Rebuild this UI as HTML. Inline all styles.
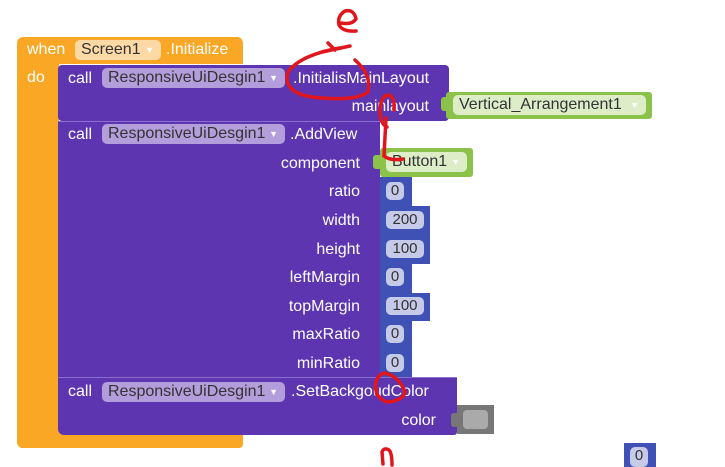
<!DOCTYPE html>
<html><head><meta charset="utf-8">
<style>
body{margin:0;width:725px;height:467px;background:#fff;position:relative;overflow:hidden;font-family:"Liberation Sans",Arial,sans-serif;}
.a{position:absolute;box-sizing:border-box;}
.t{position:absolute;color:#fff;font-size:16px;white-space:nowrap;line-height:16px;letter-spacing:0}
.pill{position:absolute;border-radius:5px;font-size:16px;line-height:20px;height:20px;color:#333;padding:0 6px;white-space:nowrap;box-sizing:border-box;}
.pill span{position:absolute;right:7px;top:0;color:#fff;font-size:9px}
.num{position:absolute;background:#3f51b5;}
.nv{position:absolute;background:#c5cae9;border-radius:5px;color:#333;font-size:15px;line-height:18px;text-align:center;}
.lab{position:absolute;color:#fff;font-size:16px;text-align:right;width:200px;white-space:nowrap;}
</style></head><body>
<div class="a" style="left:17px;top:37px;width:226px;height:27px;background:#fba726;border-radius:6px 6px 0 0"></div>
<div class="a" style="left:17px;top:60px;width:42px;height:388px;background:#fba726;border-radius:0 0 0 6px"></div>
<div class="a" style="left:17px;top:432px;width:226px;height:16px;background:#fba726;border-radius:0 0 4px 6px"></div>
<div class="t" style="left:27px;top:42px;">when</div>
<div class="pill" style="left:75px;top:40px;background:#fdd9a6;width:86px">Screen1<span>▼</span></div>
<div class="t" style="left:166px;top:42px;">.Initialize</div>
<div class="t" style="left:27px;top:70px;">do</div>

<div class="a" style="left:58px;top:65px;width:391px;height:56px;background:#5e35b1;border-radius:4px"></div>
<div class="t" style="left:68px;top:71px;">call</div>
<div class="pill" style="left:102px;top:68px;background:#b39ddb;width:183px">ResponsiveUiDesgin1<span>▼</span></div>
<div class="t" style="left:293px;top:71px;">.InitialisMainLayout</div>
<div class="lab" style="left:229px;top:98px;">mainlayout</div>
<div class="a" style="left:441px;top:97px;width:6px;height:14px;background:#8bc34a;border-radius:3px 0 0 3px"></div>
<div class="a" style="left:446px;top:92px;width:206px;height:27px;background:#8bc34a;border-radius:3px"></div>
<div class="pill" style="left:453px;top:95px;background:#dcedc8;width:193px">Vertical_Arrangement1<span>▼</span></div>

<div class="a" style="left:58px;top:121px;width:322px;height:258px;background:#5e35b1;border-top:1px solid #8a6fd0"></div>
<div class="t" style="left:68px;top:127px;">call</div>
<div class="pill" style="left:102px;top:124px;background:#b39ddb;width:183px">ResponsiveUiDesgin1<span>▼</span></div>
<div class="t" style="left:290px;top:127px;">.AddView</div>
<div class="lab" style="left:160px;top:155px;">component</div>
<div class="a" style="left:373px;top:155px;width:8px;height:14px;background:#8bc34a;border-radius:3px 0 0 3px"></div>
<div class="a" style="left:380px;top:148px;width:93px;height:29px;background:#8bc34a;border-radius:3px"></div>
<div class="pill" style="left:386px;top:152px;background:#dcedc8;width:81px">Button1<span>▼</span></div>

<div class="lab" style="left:160px;top:183px;">ratio</div>
<div class="num" style="left:380px;top:177px;width:32px;height:29px"></div><div class="nv" style="left:386px;top:182px;width:18px">0</div>
<div class="lab" style="left:160px;top:212px;">width</div>
<div class="num" style="left:380px;top:206px;width:50px;height:29px"></div><div class="nv" style="left:386px;top:211px;width:38px">200</div>
<div class="lab" style="left:160px;top:241px;">height</div>
<div class="num" style="left:380px;top:235px;width:50px;height:29px"></div><div class="nv" style="left:386px;top:240px;width:38px">100</div>
<div class="lab" style="left:160px;top:269px;">leftMargin</div>
<div class="num" style="left:380px;top:264px;width:32px;height:29px"></div><div class="nv" style="left:386px;top:268px;width:18px">0</div>
<div class="lab" style="left:160px;top:298px;">topMargin</div>
<div class="num" style="left:380px;top:293px;width:50px;height:28px"></div><div class="nv" style="left:386px;top:297px;width:38px">100</div>
<div class="lab" style="left:160px;top:326px;">maxRatio</div>
<div class="num" style="left:380px;top:321px;width:32px;height:29px"></div><div class="nv" style="left:386px;top:325px;width:18px">0</div>
<div class="lab" style="left:160px;top:355px;">minRatio</div>
<div class="num" style="left:380px;top:350px;width:32px;height:28px"></div><div class="nv" style="left:386px;top:354px;width:18px">0</div>

<div class="a" style="left:58px;top:377px;width:399px;height:58px;background:#5e35b1;border-top:1px solid #8a6fd0;border-radius:0 0 3px 6px"></div>
<div class="t" style="left:68px;top:384px;">call</div>
<div class="pill" style="left:102px;top:382px;background:#b39ddb;width:183px">ResponsiveUiDesgin1<span>▼</span></div>
<div class="t" style="left:291px;top:384px;">.SetBackgoudColor</div>
<div class="lab" style="left:236px;top:412px;">color</div>
<div class="a" style="left:451px;top:413px;width:8px;height:14px;background:#777;border-radius:3px 0 0 3px"></div>
<div class="a" style="left:457px;top:405px;width:37px;height:29px;background:#777"></div>
<div class="a" style="left:463px;top:410px;width:25px;height:19px;background:#aaa;border-radius:4px"></div>

<div class="num" style="left:624px;top:443px;width:32px;height:24px"></div>
<div class="nv" style="left:630px;top:447px;width:18px;height:20px">0</div>

<svg class="a" style="left:0;top:0" width="725" height="467">
<g fill="none" stroke="#e0161c" stroke-width="3.5" stroke-linecap="round" stroke-linejoin="round">
<path d="M341 23 Q352 25 356 19 Q354 9 345 11 Q337 16 339 25 Q343 32 356 31"/>
<path d="M322 52 L350 46 M335 50 L328 43"/>
<path d="M340 48 Q300 55 288 72 Q282 92 312 97 Q355 102 368 92 Q372 75 355 60"/>
<path d="M387 127 Q380 124 380 110 Q381 96 388 95 Q395 96 394 110"/>
<path d="M386 118 L384 156 Q390 161 403 159"/>
<path d="M377 395 Q372 378 384 373 Q398 375 405 392 Q403 401 387 402 Q375 397 376 388"/>
<path d="M383 464 L382 452 Q384 447 389 450 Q392 453 392 465"/>
</g></svg>
</body></html>
